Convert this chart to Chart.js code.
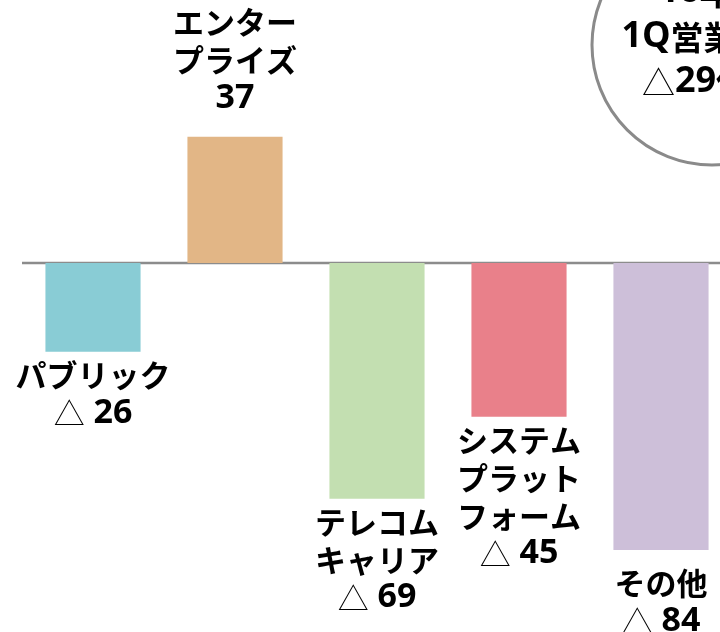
<!DOCTYPE html>
<html>
<head>
<meta charset="utf-8">
<script src="https://cdn.jsdelivr.net/npm/chart.js@4"></script>
<style>
  html, body { margin: 0; padding: 0; background: #fff; overflow: hidden; }
  #wrap { width: 740px; height: 632px; }
</style>
</head>
<body>
<div id="wrap"><canvas id="chart"></canvas></div>
<script>
// segment names (label lines) and change in operating profit
const segments = ['パブリック', 'エンタープライズ', 'テレコムキャリア', 'システムプラットフォーム', 'その他'];
const labelLines = [
  ['パブリック'],
  ['エンター', 'プライズ'],
  ['テレコム', 'キャリア'],
  ['システム', 'プラット', 'フォーム'],
  ['その他']
];
const changes = [-26, 37, -69, -45, -84];
const barColors = ['#89CCD5', '#E2B686', '#C3DFB1', '#E9808A', '#CDBFD9'];
const calloutLines = ['16年度', '1Q営業利益', '△29億円'];

const CJK = '"Noto Sans CJK JP", sans-serif';
const LATIN = '"Open Sans", "Noto Sans", sans-serif';

// split text into runs: thin triangle, latin/digits, japanese
function runs(text, size) {
  const out = [];
  for (const ch of text) {
    let font;
    if (ch === '△') font = '300 ' + size + 'px ' + CJK;
    else if (/[0-9A-Za-z ]/.test(ch)) font = 'bold ' + Math.round(size * 1.1) + 'px ' + LATIN;
    else font = 'bold ' + size + 'px ' + CJK;
    const last = out[out.length - 1];
    if (last && last.font === font) last.text += ch;
    else out.push({ font, text: ch });
  }
  return out;
}

function drawMixed(ctx, text, x, y, size) {
  const parts = runs(text, size);
  let total = 0;
  parts.forEach(p => { ctx.font = p.font; p.w = ctx.measureText(p.text).width; total += p.w; });
  let left = x - total / 2;
  ctx.textAlign = 'left';
  parts.forEach(p => { ctx.font = p.font; ctx.fillText(p.text, left, y); left += p.w; });
}

// zero line across the plot
const zeroLine = {
  id: 'zeroLine',
  beforeDatasetsDraw(chart) {
    const { ctx, chartArea, scales } = chart;
    const y = scales.y.getPixelForValue(0);
    ctx.save();
    ctx.strokeStyle = '#8c8c8c';
    ctx.lineWidth = 2.5;
    ctx.beginPath();
    ctx.moveTo(chartArea.left, y);
    ctx.lineTo(chart.width, y);
    ctx.stroke();
    ctx.restore();
  }
};

const barLabels = {
  id: 'barLabels',
  afterDatasetsDraw(chart) {
    const { ctx } = chart;
    const meta = chart.getDatasetMeta(0);
    const lh = 38;
    ctx.save();
    ctx.fillStyle = '#000';
    ctx.textBaseline = 'middle';
    meta.data.forEach((bar, i) => {
      const v = changes[i];
      const lines = labelLines[i].concat([(v < 0 ? '△ ' : '') + Math.abs(v)]);
      let y0;
      if (v >= 0) {
        y0 = bar.y - 38 - (lines.length - 1) * lh;
      } else {
        y0 = bar.y + 23 + (i === 4 ? 10 : 0);
      }
      lines.forEach((t, k) => drawMixed(ctx, t, bar.x, y0 + k * lh, 31));
    });
    ctx.restore();
  }
};

// round callout in the top right corner
const callout = {
  id: 'callout',
  afterDraw(chart) {
    const { ctx, chartArea } = chart;
    const cx = chartArea.left + 690, cy = 45, r = 120;
    ctx.save();
    ctx.strokeStyle = '#8a8a8a';
    ctx.lineWidth = 3;
    ctx.beginPath();
    ctx.arc(cx, cy, r, 0, Math.PI * 2);
    ctx.stroke();
    ctx.fillStyle = '#000';
    ctx.textBaseline = 'middle';
    calloutLines.forEach((t, k) => drawMixed(ctx, t, cx, cy - 53 + k * 45, 33));
    ctx.restore();
  }
};

new Chart(document.getElementById('chart'), {
  type: 'bar',
  data: {
    labels: segments,
    datasets: [{
      data: changes,
      backgroundColor: barColors,
      borderWidth: 0,
      categoryPercentage: 1,
      barPercentage: 0.67
    }]
  },
  options: {
    responsive: true,
    maintainAspectRatio: false,
    animation: false,
    layout: { padding: { left: 22, right: 8, top: 0, bottom: 0 } },
    plugins: { legend: { display: false }, tooltip: { enabled: false } },
    scales: {
      x: { display: false },
      y: { display: false, min: -108, max: 77 }
    }
  },
  plugins: [zeroLine, barLabels, callout]
});
</script>
</body>
</html>
